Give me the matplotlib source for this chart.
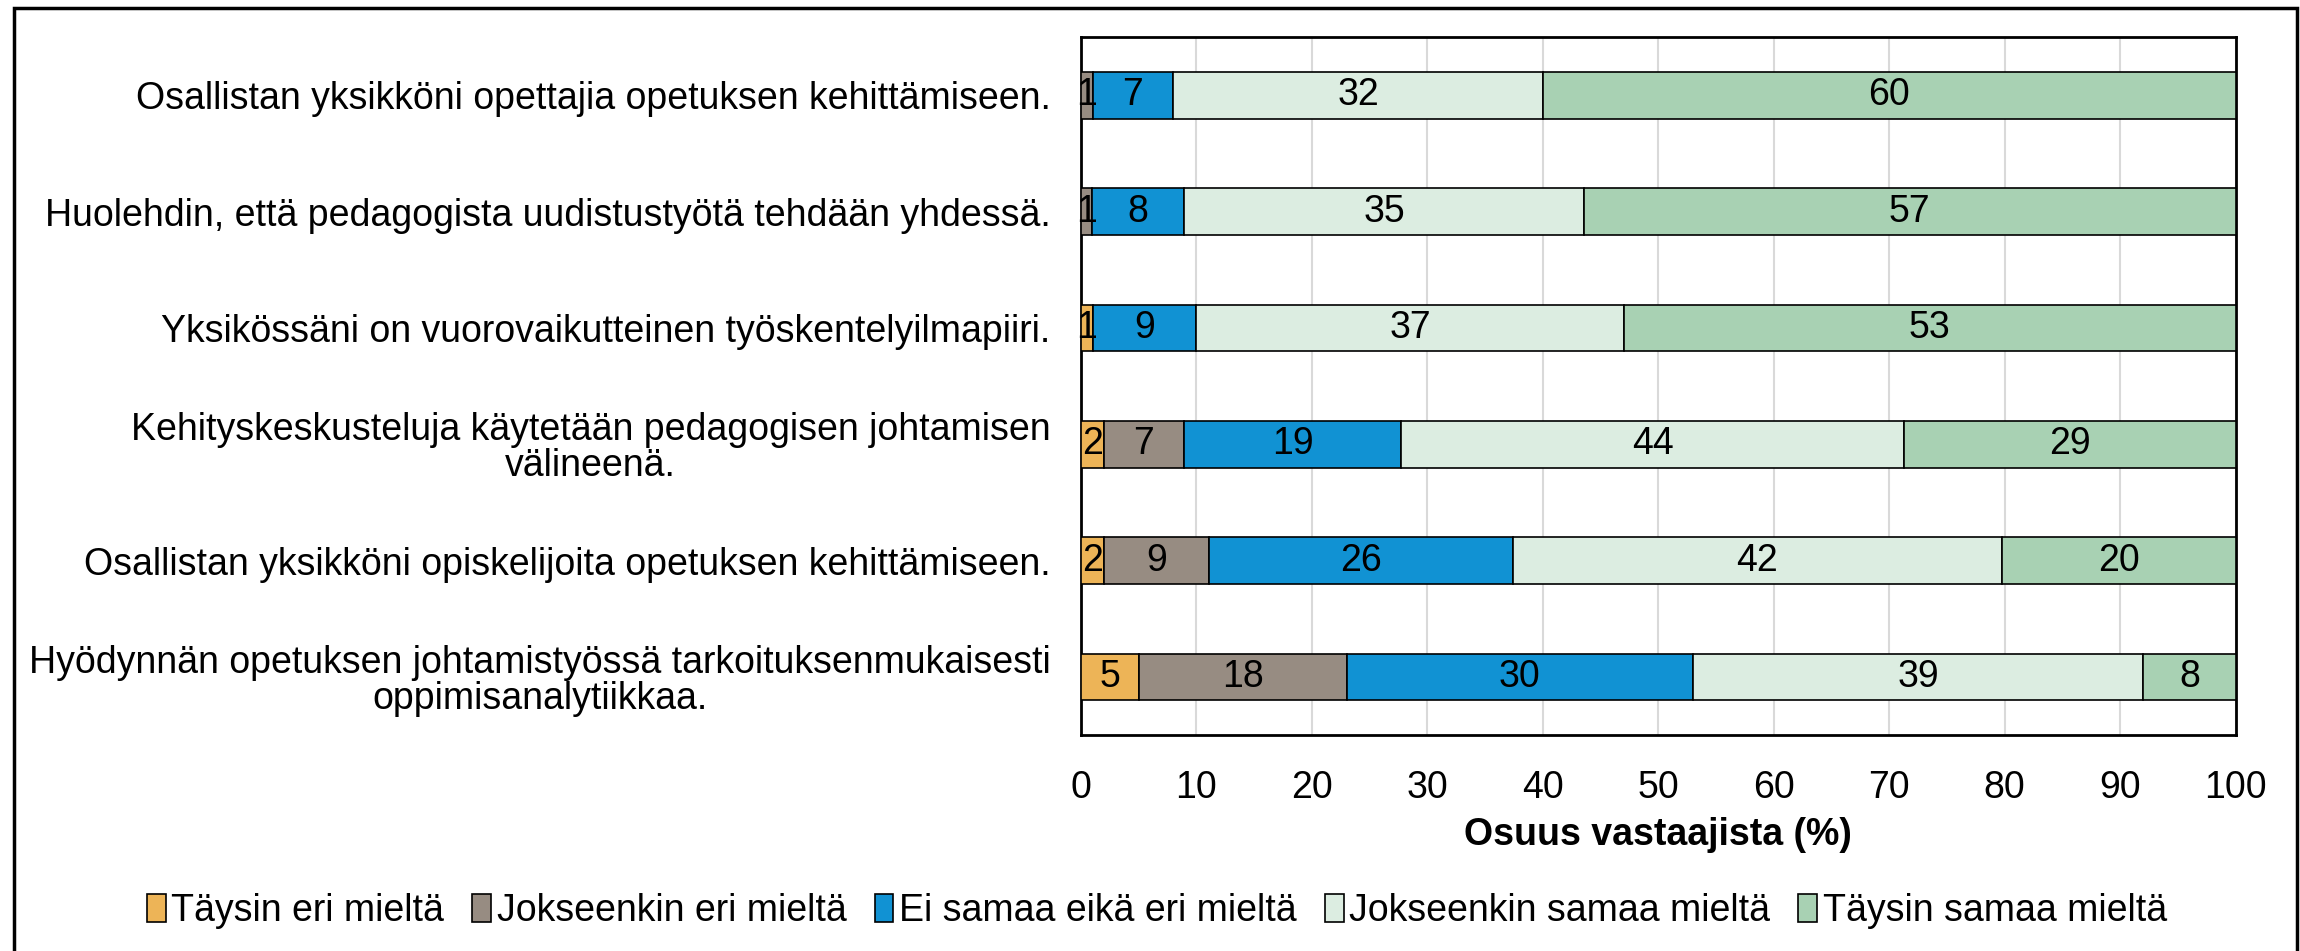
import matplotlib.pyplot as plt
import numpy as np
from matplotlib.patches import Rectangle

plt.rcParams['font.family'] = ['Liberation Sans', 'DejaVu Sans']

# =============================================================================
# Data
# =============================================================================

categories = [
    'Osallistan yksikköni opettajia opetuksen kehittämiseen.',
    'Huolehdin, että pedagogista uudistustyötä tehdään yhdessä.',
    'Yksikössäni on vuorovaikutteinen työskentelyilmapiiri.',
    'Kehityskeskusteluja käytetään pedagogisen johtamisen\nvälineenä.',
    'Osallistan yksikköni opiskelijoita opetuksen kehittämiseen.',
    'Hyödynnän opetuksen johtamistyössä tarkoituksenmukaisesti\noppimisanalytiikkaa.',
]

series_names = ['Täysin eri mieltä', 'Jokseenkin eri mieltä', 'Ei samaa eikä eri mieltä',
                'Jokseenkin samaa mieltä', 'Täysin samaa mieltä']

taysin_eri = [0, 0, 1, 2, 2, 5]
jokseenkin_eri = [1, 1, 0, 7, 9, 18]
ei_samaa_eika_eri = [7, 8, 9, 19, 26, 30]
jokseenkin_samaa = [32, 35, 37, 44, 42, 39]
taysin_samaa = [60, 57, 53, 29, 20, 8]

colors = ['#EDB457', '#978C82', '#1192D3', '#DCEDE1', '#A8D1B3']
x_ticks = [0, 10, 20, 30, 40, 50, 60, 70, 80, 90, 100]

# =============================================================================
# Plot
# =============================================================================

fs = 27

values = np.array([taysin_eri, jokseenkin_eri, ei_samaa_eika_eri,
                   jokseenkin_samaa, taysin_samaa], dtype=float)
# 100 % stacked bar: normalise every row to 100
shares = values / values.sum(axis=0) * 100

fig = plt.figure(figsize=(23, 9.51), dpi=100)
ax = fig.add_axes([0.470, 0.227, 0.502, 0.734])

y = np.arange(len(categories))
left = np.zeros(len(categories))
for i in range(len(series_names)):
    bars = ax.barh(y, shares[i], left=left, height=0.4, color=colors[i],
                   edgecolor='black', linewidth=1.2, label=series_names[i], zorder=3)
    for j, b in enumerate(bars):
        if values[i, j] > 0:
            ax.text(left[j] + shares[i, j] / 2, y[j], '%d' % values[i, j],
                    ha='center', va='center', fontsize=fs, color='black', zorder=4)
    left += shares[i]

ax.set_xlim(0, 100)
ax.set_ylim(len(categories) - 0.5, -0.5)
ax.set_xticks(x_ticks)
ax.set_yticks(y)
ax.set_yticklabels(categories, fontsize=fs, multialignment='center', linespacing=1.0)
ax.tick_params(axis='x', labelsize=fs, length=0, pad=25)
ax.tick_params(axis='y', length=0, pad=22)
ax.xaxis.grid(True, color='#D9D9D9', linewidth=1.5, zorder=0)
ax.set_axisbelow(True)
for s in ax.spines.values():
    s.set_linewidth(2)
    s.set_color('black')

ax.set_xlabel('Osuus vastaajista (%)', fontsize=fs, fontweight='bold', labelpad=8)

fig.legend(loc='center', bbox_to_anchor=(0.503, 0.042), ncol=5, frameon=False,
           fontsize=fs, handlelength=0.5, handleheight=0.8, handletextpad=0.15,
           columnspacing=0.75)

# outer chart border
fig.patches.append(Rectangle((14 / 2300, -0.05), (2297 - 14) / 2300, 1.05 - 8 / 951,
                             transform=fig.transFigure, fill=False,
                             edgecolor='black', linewidth=2.5))

fig.savefig('out.png', dpi=100)
